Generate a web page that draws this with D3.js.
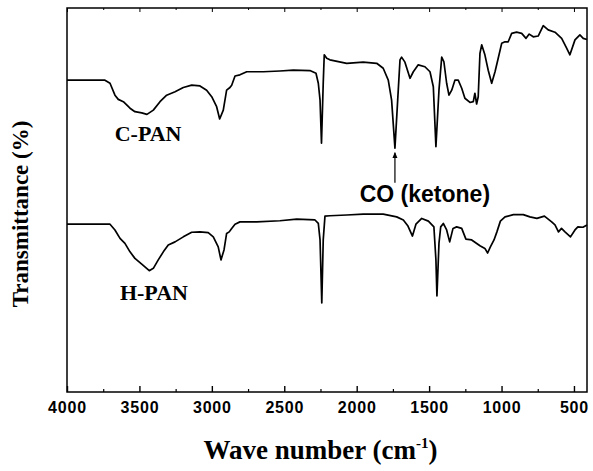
<!DOCTYPE html>
<html>
<head>
<meta charset="utf-8">
<script src="https://cdn.jsdelivr.net/npm/d3@7"></script>
<style>
  body { margin: 0; background: #fff; }
  svg { display: block; }
</style>
</head>
<body>
<svg width="593" height="471"></svg>
<script>
// wavenumbers (cm-1) and transmittance (arb. %)
var cpanWave = [4000,3738,3703,3669,3646,3611,3565,3531,3484,3448,3404,3358,3312,3254,3197,3139,3082,3036,3001,2967,2946,2921,2898,2875,2863,2840,2806,2759,2645,2530,2438,2323,2281,2265,2253,2243,2231,2224,2207,2185,2069,1955,1862,1817,1782,1759,1736,1717,1701,1690,1667,1632,1609,1575,1529,1494,1471,1453,1432,1413,1398,1379,1363,1344,1322,1299,1275,1253,1218,1195,1184,1172,1161,1149,1137,1115,1092,1068,1045,1023,999,976,954,930,896,861,831,809,781,747,712,678,631,585,555,528,493,459,436,410];
var cpanT = [81.2,81.2,80.4,77.3,76.2,75.6,73.9,73.0,72.7,72.3,73.4,75.6,77.3,78.2,79.3,79.9,79.7,78.6,76.9,74.3,71.1,73.4,78.6,79.3,79.9,82.3,82.6,83.4,83.4,83.6,83.8,83.7,83.0,80.4,76.0,64.8,80.5,87.8,86.9,86.5,85.6,85.9,85.6,84.3,81.2,76.0,63.5,76.0,86.5,87.2,85.9,81.7,83.4,85.2,84.7,83.4,79.5,63.9,78.6,87.2,86.0,80.4,77.3,78.6,81.2,81.2,79.1,76.5,75.4,75.6,77.8,75.0,76.9,88.2,90.4,87.8,83.8,80.4,83.4,86.9,90.8,91.2,91.2,93.4,93.7,93.4,92.1,93.2,92.5,92.7,95.4,94.3,93.7,92.1,89.9,87.8,91.7,93.0,92.1,91.8];

var hpanWave = [4000,3703,3669,3634,3600,3565,3531,3484,3450,3432,3404,3370,3335,3301,3254,3197,3139,3082,3025,2990,2956,2937,2916,2898,2880,2863,2840,2806,2690,2530,2414,2288,2265,2253,2241,2231,2219,2185,2069,1955,1817,1724,1678,1646,1615,1591,1551,1505,1467,1453,1446,1432,1420,1402,1379,1358,1335,1310,1275,1246,1206,1149,1115,1096,1077,1052,1032,1008,976,918,850,804,756,704,654,631,607,586,562,524,493,473,438,410];
var hpanT = [43.7,43.7,42.2,40.0,38.7,36.5,34.8,33.3,32.2,31.6,32.2,34.4,36.5,38.3,39.1,40.4,41.6,41.7,41.5,40.4,37.8,34.4,37.0,41.3,41.7,42.6,43.7,44.3,44.3,44.6,45.0,44.8,43.9,39.6,23.2,39.6,45.8,45.9,46.1,46.3,46.3,45.6,44.8,43.2,40.6,43.7,45.2,44.5,43.0,34.4,25.0,38.7,43.0,43.9,42.2,39.1,42.6,43.0,42.6,39.8,39.6,38.1,37.4,36.2,37.8,39.6,41.7,44.5,45.6,46.2,46.2,45.6,45.2,45.8,44.3,43.5,41.7,42.6,41.7,40.4,42.2,43.0,42.9,43.5];

var majorTicks = [4000,3500,3000,2500,2000,1500,1000,500];
var minorTicks = [3750,3250,2750,2250,1750,1250,750];
var seriesNames = ["C-PAN","H-PAN"];
var ketoneWave = 1736;

var svg = d3.select("svg");
var margin = {top: 8, right: 6, bottom: 79, left: 67};
var width = 593 - margin.left - margin.right;
var height = 471 - margin.top - margin.bottom;

var x = d3.scaleLinear().domain([4000, 410]).range([0, width]);
var y = d3.scaleLinear().domain([0, 100]).range([height, 0]);

var plot = svg.append("g").attr("transform", "translate(" + margin.left + "," + margin.top + ")");

// bottom axis, ticks pointing inward
var xAxis = d3.axisBottom(x).tickValues(majorTicks).tickFormat(d3.format("d"))
  .tickSizeInner(-6).tickSizeOuter(0).tickPadding(10);
var xg = plot.append("g").attr("transform", "translate(0," + height + ")").call(xAxis);
xg.select(".domain").remove();
xg.selectAll("line").attr("stroke", "#000").attr("stroke-width", 1.4);
xg.selectAll("text")
  .attr("font-family", "'Liberation Sans', Arial, sans-serif")
  .attr("font-weight", "bold")
  .attr("font-size", "16px")
  .attr("letter-spacing", "0.8px")
  .attr("fill", "#000");

var xMinor = d3.axisBottom(x).tickValues(minorTicks).tickSizeInner(-3).tickSizeOuter(0).tickFormat("");
var xm = plot.append("g").attr("transform", "translate(0," + height + ")").call(xMinor);
xm.select(".domain").remove();
xm.selectAll("line").attr("stroke", "#000").attr("stroke-width", 1.2);

// top axis ticks
var xTop = d3.axisTop(x).tickValues(majorTicks).tickSizeInner(-4).tickSizeOuter(0).tickFormat("");
var xt = plot.append("g").call(xTop);
xt.select(".domain").remove();
xt.selectAll("line").attr("stroke", "#000").attr("stroke-width", 1);
var xTopMinor = d3.axisTop(x).tickValues(minorTicks).tickSizeInner(-2).tickSizeOuter(0).tickFormat("");
var xtm = plot.append("g").call(xTopMinor);
xtm.select(".domain").remove();
xtm.selectAll("line").attr("stroke", "#000").attr("stroke-width", 1);

// frame
plot.append("rect")
  .attr("x", 0).attr("y", 0)
  .attr("width", width).attr("height", height)
  .attr("fill", "none")
  .attr("stroke", "#000")
  .attr("stroke-width", 1.5);

var line = d3.line()
  .x(function(d){ return x(d[0]); })
  .y(function(d){ return y(d[1]); });

var series = [d3.zip(cpanWave, cpanT), d3.zip(hpanWave, hpanT)];
plot.selectAll("path.spec")
  .data(series)
  .enter().append("path")
  .attr("class", "spec")
  .attr("d", line)
  .attr("fill", "none")
  .attr("stroke", "#000")
  .attr("stroke-width", 1.7)
  .attr("stroke-linejoin", "round");

// series labels
var labelPos = [[3440, 65.4], [3400, 23.9]];
plot.selectAll("text.series")
  .data(seriesNames)
  .enter().append("text")
  .attr("class", "series")
  .attr("x", function(d, i){ return x(labelPos[i][0]); })
  .attr("y", function(d, i){ return y(labelPos[i][1]); })
  .attr("text-anchor", "middle")
  .attr("font-family", "'Liberation Serif', 'Times New Roman', serif")
  .attr("font-weight", "bold")
  .attr("font-size", "22px")
  .text(function(d){ return d; });

// ketone arrow
var ax = x(ketoneWave);
plot.append("line")
  .attr("x1", ax).attr("x2", ax)
  .attr("y1", y(54.5)).attr("y2", y(62.3))
  .attr("stroke", "#000").attr("stroke-width", 1.2);
plot.append("path")
  .attr("d", "M" + (ax - 2.5) + "," + (y(62.5) + 6) + "L" + ax + "," + y(62.5) + "L" + (ax + 2.5) + "," + (y(62.5) + 6) + "Z")
  .attr("fill", "#000");
plot.append("text")
  .attr("x", x(1529))
  .attr("y", y(49.4))
  .attr("text-anchor", "middle")
  .attr("font-family", "'Liberation Sans', Arial, sans-serif")
  .attr("font-weight", "bold")
  .attr("font-size", "23px")
  .text("CO (ketone)");

// axis titles
svg.append("text")
  .attr("x", margin.left + x(2250))
  .attr("y", 459)
  .attr("text-anchor", "middle")
  .attr("font-family", "'Liberation Serif', 'Times New Roman', serif")
  .attr("font-weight", "bold")
  .attr("font-size", "27px")
  .html("Wave number (cm<tspan dy='-11' font-size='15px'>-1</tspan><tspan dy='11'>)</tspan>");

svg.append("text")
  .attr("transform", "translate(28," + (margin.top + height / 2 + 14) + ") rotate(-90)")
  .attr("text-anchor", "middle")
  .attr("font-family", "'Liberation Serif', 'Times New Roman', serif")
  .attr("font-weight", "bold")
  .attr("font-size", "23px")
  .text("Transmittance (%)");
</script>
</body>
</html>
